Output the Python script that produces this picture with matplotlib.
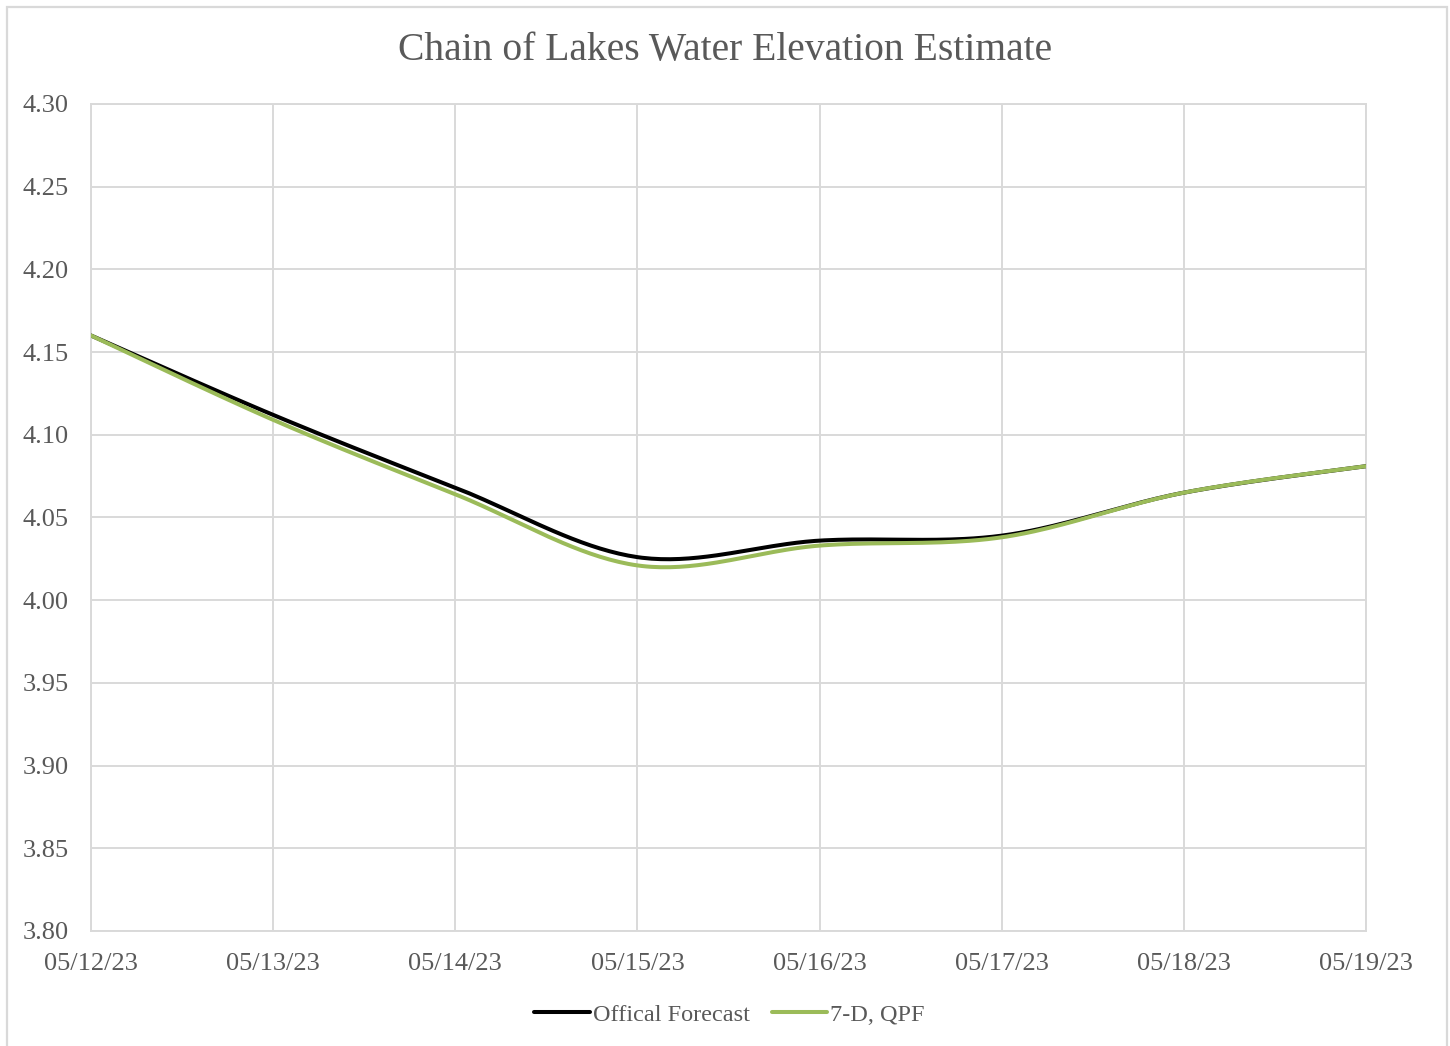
import matplotlib
matplotlib.use('Agg')
import matplotlib.pyplot as plt
import numpy as np
from matplotlib.patches import Rectangle

# data (daily values)
dates = ['05/12/23', '05/13/23', '05/14/23', '05/15/23',
         '05/16/23', '05/17/23', '05/18/23', '05/19/23']
official = [4.160, 4.112, 4.068, 4.026, 4.036, 4.039, 4.065, 4.081]
qpf7d = [4.160, 4.109, 4.064, 4.021, 4.033, 4.038, 4.065, 4.081]
yticks = [3.80, 3.85, 3.90, 3.95, 4.00, 4.05, 4.10, 4.15, 4.20, 4.25, 4.30]


def smooth(xs, ys, n=40):
    # Excel-like smoothed line (Catmull-Rom Bezier)
    xs = np.asarray(xs, float)
    ys = np.asarray(ys, float)
    px = np.concatenate([[xs[0]], xs, [xs[-1]]])
    py = np.concatenate([[ys[0]], ys, [ys[-1]]])
    outx, outy = [], []
    t = np.linspace(0, 1, n)
    for i in range(1, len(px) - 2):
        p0 = np.array([px[i], py[i]])
        p3 = np.array([px[i + 1], py[i + 1]])
        c1 = p0 + (np.array([px[i + 1], py[i + 1]]) - np.array([px[i - 1], py[i - 1]])) / 6
        c2 = p3 - (np.array([px[i + 2], py[i + 2]]) - np.array([px[i], py[i]])) / 6
        b = ((1 - t) ** 3)[:, None] * p0 + (3 * (1 - t) ** 2 * t)[:, None] * c1 \
            + (3 * (1 - t) * t ** 2)[:, None] * c2 + (t ** 3)[:, None] * p3
        outx.extend(b[:, 0])
        outy.extend(b[:, 1])
    return outx, outy


plt.rcParams['font.family'] = ['Liberation Serif', 'DejaVu Serif']
grey = '#d9d9d9'
txt = '#595959'

fig = plt.figure(figsize=(14.5, 10.46), dpi=100)
ax = fig.add_axes([0.0628, 0.110, 0.8793, 0.7906])

x = np.arange(len(dates))
bx, by = smooth(x, official)
gx, gy = smooth(x, qpf7d)
ax.plot(bx, by, color='black', lw=2.9, label='Offical Forecast', solid_capstyle='round', zorder=3)
ax.plot(gx, gy, color='#9bbb59', lw=2.9, label='7-D, QPF', solid_capstyle='round', zorder=4)

ax.set_xlim(0, len(dates) - 1)
ax.set_ylim(3.80, 4.30)
ax.set_xticks(x)
ax.set_xticklabels(dates)
ax.set_yticks(yticks)
ax.set_yticklabels(['%.2f' % v for v in yticks])
ax.grid(True, color=grey, lw=1.4)
ax.set_axisbelow(True)
for s in ax.spines.values():
    s.set_color(grey)
    s.set_linewidth(1.4)
ax.tick_params(length=0, labelsize=19, labelcolor=txt)
ax.tick_params(axis='y', pad=16)
ax.tick_params(axis='x', pad=16)

fig.text(0.5, 0.952, 'Chain of Lakes Water Elevation Estimate', ha='center', va='center',
         fontsize=28.5, color=txt)

leg = fig.legend(loc='center', bbox_to_anchor=(0.503, 0.030), ncol=2, frameon=False,
                 fontsize=17.5, handlelength=2.3, handletextpad=0.1, columnspacing=0.9)
for t in leg.get_texts():
    t.set_color(txt)

# outer chart frame
fig.patches.append(Rectangle((7 / 1450, -0.05), 1440 / 1450, 1.05 - 7 / 1046,
                             transform=fig.transFigure, fill=False, ec=grey, lw=1.6))

fig.savefig('out.png', dpi=100)
